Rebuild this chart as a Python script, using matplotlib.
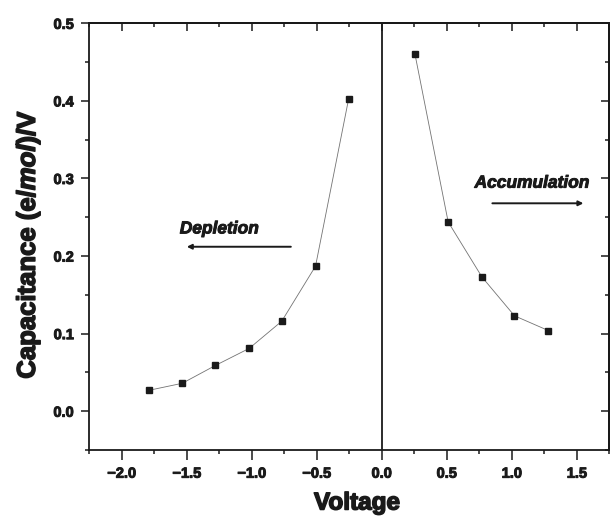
"""Capacitance vs voltage, depletion and accumulation branches."""

import matplotlib
matplotlib.use("Agg")
import matplotlib.pyplot as plt
import matplotlib.patheffects as pe
from matplotlib.ticker import MultipleLocator, FixedLocator

# values
depl_v = [-1.79, -1.535, -1.28, -1.02, -0.77, -0.51, -0.255]
depl_c = [0.027, 0.036, 0.059, 0.081, 0.116, 0.187, 0.403]
accu_v = [0.255, 0.51, 0.77, 1.02, 1.28]
accu_c = [0.46, 0.244, 0.173, 0.123, 0.104]

x_ticks = [-2.0, -1.5, -1.0, -0.5, 0.0, 0.5, 1.0, 1.5]
x_labels = ["\u22122.0", "\u22121.5", "\u22121.0", "\u22120.5",
            "0.0", "0.5", "1.0", "1.5"]
y_ticks = [0.0, 0.1, 0.2, 0.3, 0.4, 0.5]
y_labels = ["0.0", "0.1", "0.2", "0.3", "0.4", "0.5"]

plt.rcParams["font.family"] = ["Liberation Sans", "DejaVu Sans"]
plt.rcParams["font.weight"] = "bold"
plt.rcParams["mathtext.fontset"] = "custom"
plt.rcParams["mathtext.rm"] = "Liberation Sans:bold"
plt.rcParams["mathtext.it"] = "Liberation Sans:italic:bold"

INK = "#1a1a1a"
heavy = [pe.withStroke(linewidth=0.7, foreground=INK)]
heavier = [pe.withStroke(linewidth=1.1, foreground=INK)]

fig = plt.figure(figsize=(6.1, 5.16), dpi=100)
ax = fig.add_axes([0.1464, 0.1279, 0.8526, 0.8269])

# data
ax.plot(depl_v, depl_c, "-", c="0.45", lw=0.6, zorder=2)
ax.plot(depl_v, depl_c, "s", c=INK, ms=4.8, zorder=3)
ax.plot(accu_v, accu_c, "-", c="0.45", lw=0.6, zorder=2)
ax.plot(accu_v, accu_c, "s", c=INK, ms=4.8, zorder=3)
ax.axvline(0.0, c=INK, lw=1.3, zorder=1)

ax.set_xlim(-2.25, 1.75)
ax.set_ylim(-0.05, 0.5)

# left / bottom ticks point out
ax.xaxis.set_major_locator(FixedLocator(x_ticks))
ax.set_xticklabels(x_labels)
ax.xaxis.set_minor_locator(MultipleLocator(0.25))
ax.yaxis.set_major_locator(FixedLocator(y_ticks))
ax.set_yticklabels(y_labels)
ax.yaxis.set_minor_locator(MultipleLocator(0.05))
ax.tick_params(which="major", direction="out", length=6, width=1.1,
               labelsize=10.5, color=INK, labelcolor=INK, pad=5)
ax.tick_params(which="minor", direction="out", length=3, width=1.1, color=INK)
ax.tick_params(axis="x", which="major", length=7)
for lab in ax.get_xticklabels() + ax.get_yticklabels():
    lab.set_path_effects(heavy)
for sp in ax.spines.values():
    sp.set_linewidth(1.3)
    sp.set_color(INK)

# top / right ticks point in
top = ax.secondary_xaxis("top")
top.xaxis.set_major_locator(FixedLocator(x_ticks))
top.xaxis.set_minor_locator(MultipleLocator(0.25))
top.tick_params(which="major", direction="in", length=6, width=1.1,
                labeltop=False, color=INK)
top.tick_params(which="minor", direction="in", length=3, width=1.1, color=INK)
top.spines["top"].set_linewidth(1.3)

right = ax.secondary_yaxis("right")
right.yaxis.set_major_locator(FixedLocator(y_ticks))
right.yaxis.set_minor_locator(MultipleLocator(0.05))
right.tick_params(which="major", direction="in", length=6, width=1.1,
                  labelright=False, color=INK)
right.tick_params(which="minor", direction="in", length=3, width=1.1,
                  color=INK)
right.spines["right"].set_linewidth(1.3)

# annotations
ax.text(-1.25, 0.235, "Depletion", style="italic", weight="bold",
        fontsize=12.5, ha="center", va="center", color=INK,
        path_effects=heavy)
ax.annotate("", xy=(-1.5, 0.212), xytext=(-0.70, 0.212),
            arrowprops=dict(arrowstyle="-|>", lw=1.4, color=INK,
                            mutation_scale=7, shrinkA=0, shrinkB=0))
ax.text(1.155, 0.294, "Accumulation", style="italic", weight="bold",
        fontsize=12.5, ha="center", va="center", color=INK,
        path_effects=heavy)
ax.annotate("", xy=(1.55, 0.268), xytext=(0.85, 0.268),
            arrowprops=dict(arrowstyle="-|>", lw=1.4, color=INK,
                            mutation_scale=7, shrinkA=0, shrinkB=0))

fig.text(357 / 610, 1 - 503 / 516, "Voltage", fontsize=17.5,
         weight="bold", ha="center", va="center", color=INK,
         path_effects=heavier)
fig.text(28 / 610, 1 - 244 / 516, r"Capacitance (e/$\mathit{mol}$)/V",
         fontsize=18.5, weight="bold", rotation=90, ha="center",
         va="center", color=INK, path_effects=heavier)

fig.savefig("out.png", dpi=100)
